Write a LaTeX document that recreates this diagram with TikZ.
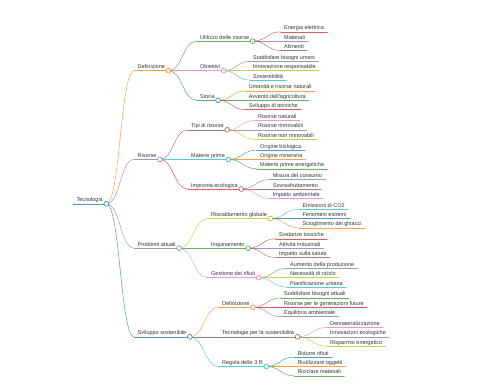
\documentclass[tikz,border=0pt]{standalone}
\usepackage{fontspec}
\setmainfont{Liberation Sans}
\usetikzlibrary{calc}
\definecolor{c0}{HTML}{1F77B4}
\definecolor{c1}{HTML}{FF7F0E}
\definecolor{c2}{HTML}{2CA02C}
\definecolor{c3}{HTML}{D62728}
\definecolor{c4}{HTML}{9467BD}
\definecolor{c5}{HTML}{8C564B}
\definecolor{c6}{HTML}{E377C2}
\definecolor{c7}{HTML}{7F7F7F}
\definecolor{c8}{HTML}{BCBD22}
\definecolor{c9}{HTML}{17BECF}
\definecolor{txt}{HTML}{333333}
\tikzset{
  mmtext/.style={font=\fontsize{5.5}{6}\selectfont, text=txt, inner sep=0pt},
  mmline/.style={line width=0.5pt, line cap=round, draw opacity=0.75},
  mmdot/.style={line width=0.55pt},
}
\newcommand\mmnode[5]{%
  \node[mmtext, anchor=base west] (#1) at (#2+3.3,#3-2) {#5};
  \coordinate (#1-l) at (#2,#3);
  \coordinate (#1-r) at ($(#1.base east |- #1-l)+(3.3,0)$);
  \draw[mmline,#4] (#1-l) -- (#1-r);
}
\newcommand\mmedge[3]{%
  \draw[mmline,#3] let \p1=(#1-r), \p2=(#2-l) in
    (\p1) .. controls ({0.5*\x1+0.5*\x2},\y1) and ({0.5*\x1+0.5*\x2},\y2) .. (\p2);
}
\newcommand\mmdot[2]{\path[mmdot,draw=#2,fill=white] (#1-r) circle[radius=2.4pt];}
\begin{document}
\begin{tikzpicture}[x=1pt,y=-1pt]
\fill[white] (0,0) rectangle (480,384);
\useasboundingbox (0,0) rectangle (480,384);
% root
\mmnode{tec}{73}{203.79}{c0}{Tecnologia}
% level 1
\mmnode{def}{134.2}{70.72}{c1}{Definizione}
\mmnode{ris}{134.2}{159.43}{c4}{Risorse}
\mmnode{pro}{134.2}{248.14}{c7}{Problemi attuali}
\mmnode{svi}{134.2}{336.85}{c0}{Sviluppo sostenibile}
% level 2
\mmnode{uti}{196.7}{41.15}{c2}{Utilizzo delle risorse}
\mmnode{obi}{196.7}{70.72}{c6}{Obiettivi}
\mmnode{sto}{196.7}{100.29}{c0}{Storia}
\mmnode{tip}{187.7}{129.86}{c5}{Tipi di risorse}
\mmnode{mpr}{187.7}{159.43}{c9}{Materie prime}
\mmnode{imp}{187.7}{189.0}{c3}{Impronta ecologica}
\mmnode{rsc}{207.7}{218.57}{c8}{Riscaldamento globale}
\mmnode{inq}{207.7}{248.14}{c2}{Inquinamento}
\mmnode{ges}{207.7}{277.71}{c6}{Gestione dei rifiuti}
\mmnode{sdef}{218.7}{307.28}{c1}{Definizione}
\mmnode{tcs}{218.7}{336.85}{c5}{Tecnologie per la sostenibilità}
\mmnode{reg}{218.7}{366.42}{c9}{Regola delle 3 R}
% leaves
\mmnode{ene}{280.7}{31.8}{c3}{Energia elettrica}
\mmnode{mtl}{280.7}{41.15}{c4}{Materiali}
\mmnode{ali}{280.7}{50.5}{c5}{Alimenti}
\mmnode{sod}{249.7}{61.37}{c7}{Soddisfare bisogni umani}
\mmnode{inn}{249.7}{70.72}{c8}{Innovazione responsabile}
\mmnode{sos}{249.7}{80.07}{c9}{Sostenibilità}
\mmnode{uma}{245.4}{90.94}{c1}{Umanità e risorse naturali}
\mmnode{avv}{245.4}{100.29}{c2}{Avvento dell'agricoltura}
\mmnode{svt}{245.4}{109.64}{c3}{Sviluppo di tecniche}
\mmnode{rna}{254.7}{120.51}{c6}{Risorse naturali}
\mmnode{rri}{254.7}{129.86}{c7}{Risorse rinnovabili}
\mmnode{rnr}{254.7}{139.21}{c8}{Risorse non rinnovabili}
\mmnode{obg}{256.7}{150.08}{c0}{Origine biologica}
\mmnode{omi}{256.7}{159.43}{c1}{Origine mineraria}
\mmnode{mpe}{256.7}{168.78}{c2}{Materie prime energetiche}
\mmnode{mis}{269.4}{179.65}{c4}{Misura del consumo}
\mmnode{sov}{269.4}{189.0}{c5}{Sovrasfruttamento}
\mmnode{iam}{269.4}{198.35}{c6}{Impatto ambientale}
\mmnode{emi}{299}{209.22}{c9}{Emissioni di CO2}
\mmnode{fen}{299}{218.57}{c0}{Fenomeni estremi}
\mmnode{sci}{299}{227.92}{c1}{Scioglimento dei ghiacci}
\mmnode{sta}{275.7}{238.79}{c3}{Sostanze tossiche}
\mmnode{att}{275.7}{248.14}{c4}{Attività industriali}
\mmnode{isa}{275.7}{257.49}{c5}{Impatto sulla salute}
\mmnode{aum}{286.7}{268.36}{c7}{Aumento della produzione}
\mmnode{nec}{286.7}{277.71}{c8}{Necessità di riciclo}
\mmnode{pia}{286.7}{287.06}{c9}{Pianificazione urbana}
\mmnode{sba}{280.7}{297.93}{c2}{Soddisfare bisogni attuali}
\mmnode{rpg}{280.7}{307.28}{c3}{Risorse per le generazioni future}
\mmnode{equ}{280.7}{316.63}{c4}{Equilibrio ambientale}
\mmnode{dem}{326.7}{327.5}{c6}{Dematerializzazione}
\mmnode{ine}{326.7}{336.85}{c7}{Innovazioni ecologiche}
\mmnode{rie}{326.7}{346.2}{c8}{Risparmio energetico}
\mmnode{rid}{294}{357.07}{c0}{Ridurre rifiuti}
\mmnode{riu}{294}{366.42}{c1}{Riutilizzare oggetti}
\mmnode{ric}{294}{375.77}{c2}{Riciclare materiali}
% edges
\mmedge{tec}{def}{c1}
\mmedge{tec}{ris}{c4}
\mmedge{tec}{pro}{c7}
\mmedge{tec}{svi}{c0}
\mmedge{def}{uti}{c2}
\mmedge{def}{obi}{c6}
\mmedge{def}{sto}{c0}
\mmedge{ris}{tip}{c5}
\mmedge{ris}{mpr}{c9}
\mmedge{ris}{imp}{c3}
\mmedge{pro}{rsc}{c8}
\mmedge{pro}{inq}{c2}
\mmedge{pro}{ges}{c6}
\mmedge{svi}{sdef}{c1}
\mmedge{svi}{tcs}{c5}
\mmedge{svi}{reg}{c9}
\mmedge{uti}{ene}{c3}
\mmedge{uti}{mtl}{c4}
\mmedge{uti}{ali}{c5}
\mmedge{obi}{sod}{c7}
\mmedge{obi}{inn}{c8}
\mmedge{obi}{sos}{c9}
\mmedge{sto}{uma}{c1}
\mmedge{sto}{avv}{c2}
\mmedge{sto}{svt}{c3}
\mmedge{tip}{rna}{c6}
\mmedge{tip}{rri}{c7}
\mmedge{tip}{rnr}{c8}
\mmedge{mpr}{obg}{c0}
\mmedge{mpr}{omi}{c1}
\mmedge{mpr}{mpe}{c2}
\mmedge{imp}{mis}{c4}
\mmedge{imp}{sov}{c5}
\mmedge{imp}{iam}{c6}
\mmedge{rsc}{emi}{c9}
\mmedge{rsc}{fen}{c0}
\mmedge{rsc}{sci}{c1}
\mmedge{inq}{sta}{c3}
\mmedge{inq}{att}{c4}
\mmedge{inq}{isa}{c5}
\mmedge{ges}{aum}{c7}
\mmedge{ges}{nec}{c8}
\mmedge{ges}{pia}{c9}
\mmedge{sdef}{sba}{c2}
\mmedge{sdef}{rpg}{c3}
\mmedge{sdef}{equ}{c4}
\mmedge{tcs}{dem}{c6}
\mmedge{tcs}{ine}{c7}
\mmedge{tcs}{rie}{c8}
\mmedge{reg}{rid}{c0}
\mmedge{reg}{riu}{c1}
\mmedge{reg}{ric}{c2}
% circles
\mmdot{tec}{c0}
\mmdot{def}{c1}
\mmdot{ris}{c4}
\mmdot{pro}{c7}
\mmdot{svi}{c0}
\mmdot{uti}{c2}
\mmdot{obi}{c6}
\mmdot{sto}{c0}
\mmdot{tip}{c5}
\mmdot{mpr}{c9}
\mmdot{imp}{c3}
\mmdot{rsc}{c8}
\mmdot{inq}{c2}
\mmdot{ges}{c6}
\mmdot{sdef}{c1}
\mmdot{tcs}{c5}
\mmdot{reg}{c9}
\end{tikzpicture}
\end{document}
